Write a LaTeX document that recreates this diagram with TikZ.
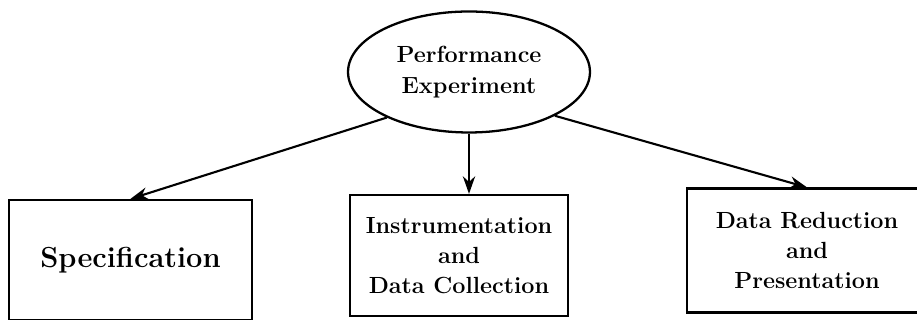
\documentclass[tikz,border=0pt]{standalone}
\usetikzlibrary{shapes.geometric, arrows.meta}

\begin{document}
\begin{tikzpicture}[
    x=0.02cm, y=0.02cm,
    box/.style={
        rectangle,
        draw,
        line width=1.3pt,
        align=center,
        font=\fontsize{13.3}{17}\selectfont\bfseries
    },
    topNode/.style={
        ellipse,
        draw,
        line width=1.3pt,
        align=center,
        minimum width=4.84cm,
        minimum height=2.42cm,
        font=\fontsize{13.3}{17.5}\selectfont\bfseries
    },
    flowArrow/.style={-{Stealth[length=10pt, width=7pt]}, line width=1.2pt}
]
    \useasboundingbox (0,0) rectangle (917,320);
    \clip (0,0) rectangle (917,320);

    % Experiment (top)
    \node[topNode] (experiment) at (469, 248) {Performance\\Experiment};

    % Phases (bottom row)
    \node[box, minimum width=4.86cm, minimum height=2.40cm, font=\fontsize{16.5}{20}\selectfont\bfseries] (spec) at (130.5, 60) {Specification};
    \node[box, minimum width=4.36cm, minimum height=2.42cm] (instr) at (459, 64.5) {Instrumentation\\and\\Data Collection};
    \node[box, minimum width=4.80cm, minimum height=2.48cm] (reduct) at (807, 69.5) {Data Reduction\\and\\Presentation};

    % Arrows
    \draw[flowArrow] (experiment.209) -- (spec.north);
    \draw[flowArrow] (experiment.south) -- (experiment.south |- instr.north);
    \draw[flowArrow] (experiment.-27) -- (reduct.north);
\end{tikzpicture}
\end{document}
